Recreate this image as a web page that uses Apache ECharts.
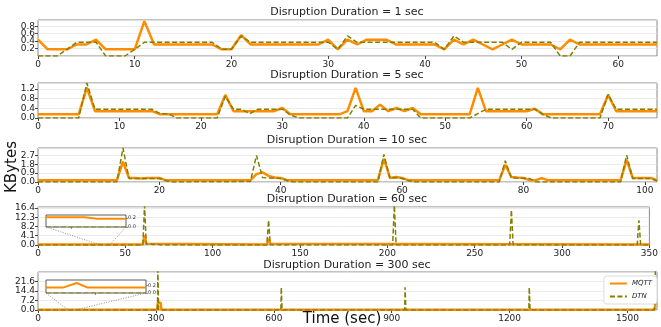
<!DOCTYPE html>
<html>
<head>
<meta charset="utf-8">
<script src="https://cdn.jsdelivr.net/npm/echarts@6/dist/echarts.min.js"></script>
<style>
html,body{margin:0;padding:0;background:#fff;}
#main{width:661px;height:327px;}
</style>
</head>
<body>
<div id="main"></div>
<script>
// 数据：每秒一个点 (1 sec / 5 sec)
var mqtt1 = [0.44,0.18,0.18,0.18,0.31,0.31,0.44,0.18,0.18,0.18,0.18,0.94,0.31,0.31,0.31,0.31,0.31,0.31,0.31,0.18,0.18,0.56,0.31,0.31,0.31,0.31,0.31,0.31,0.31,0.31,
    0.44,0.18,0.44,0.31,0.44,0.44,0.44,0.31,0.31,0.31,0.31,0.31,0.18,0.44,0.31,0.44,0.31,0.18,0.31,0.44,0.31,0.31,0.31,0.31,0.18,0.44,0.31,0.31,0.31,0.31,
    0.31,0.31,0.31,0.31,0.31];
var dtn1 = [0,0,0,0.18,0.37,0.37,0.37,0,0,0,0.18,0.37,0.37,0.37,0.37,0.37,0.37,0.37,0.37,0.18,0.18,0.54,0.37,0.37,0.37,0.37,0.37,0.37,0.37,0.37,
    0.37,0.18,0.54,0.37,0.37,0.37,0.37,0.37,0.37,0.37,0.37,0.37,0.18,0.54,0.37,0.37,0.37,0.37,0.37,0.18,0.37,0.37,0.37,0.37,0,0,0.37,0.37,0.37,0.37,
    0.37,0.37,0.37,0.37,0.37];
var mqtt5 = [0.15,0.15,0.15,0.15,0.15,0.15,1.25,0.28,0.28,0.28,0.28,0.28,0.28,0.28,0.28,0.15,0.15,0.15,0.15,0.15,0.15,0.15,0.15,0.95,0.28,0.28,0.28,0.28,0.28,0.28,
    0.41,0.15,0.15,0.15,0.15,0.15,0.15,0.15,0.28,1.24,0.28,0.28,0.55,0.28,0.41,0.28,0.41,0.15,0.15,0.15,0.15,0.15,0.15,0.15,1.24,0.28,0.28,0.28,0.28,0.28,
    0.28,0.38,0.15,0.15,0.15,0.15,0.15,0.15,0.15,0.15,0.95,0.28,0.28,0.28,0.28,0.28,0.28];
var dtn5 = [0,0,0,0,0,0,1.44,0.36,0.36,0.36,0.36,0.36,0.36,0.36,0.36,0.18,0.18,0,0,0,0,0,0,0.9,0.36,0.36,0.18,0.36,0.36,0.36,
    0.36,0.12,0,0,0,0,0,0,0,0.52,0.36,0.36,0.36,0.36,0.36,0.36,0.36,0,0,0,0,0,0,0,0.18,0.36,0.36,0.36,0.36,0.36,
    0.36,0.36,0.15,0,0,0,0,0,0,0,0.97,0.36,0.36,0.36,0.36,0.36,0.36];
// [秒, KBytes]，只记录变化点
var mqtt10 = [[0,0.19],[13,0.19],[14,2.06],[15,0.41],[16,0.41],[17,0.36],[18,0.41],[20,0.41],[21,0.19],[35,0.19],[36,0.8],[37,0.98],[38,0.62],[39,0.45],[40,0.41],[41,0.19],
    [56,0.19],[57,2.38],[58,0.41],[59,0.5],[60,0.41],[61,0.19],[76,0.19],[77,1.75],[78,0.5],[79,0.45],[80,0.41],[81,0.19],[82,0.19],[83,0.38],[84,0.19],
    [96,0.19],[97,2.25],[98,0.41],[101,0.41],[102,0.19]];
var dtn10 = [[0,0],[13,0],[14,3.45],[15,0.36],[20,0.36],[21,0.15],[22,0],[35,0.05],[36,2.7],[37,0.45],[38,0.4],[40,0.36],[41,0.15],[42,0],
    [56,0],[57,2.8],[58,0.36],[59,0.45],[60,0.36],[61,0.15],[62,0],[76,0],[77,2.16],[78,0.4],[81,0.36],[82,0],[96,0],[97,2.73],[98,0.36],[101,0.36],[102,0.1]];
var mqtt60 = [[0,0.2],[60,0.2],[61,4.3],[62,0.5],[63,0.2],[131,0.2],[132,2.8],[133,0.5],[134,0.2],[350,0.2]];
var dtn60 = [[0,0],[60,0],[61,17.5],[62,0.3],[64,0.6],[66,0.2],[68,0.5],[70,0],[131,0],[132,10.9],[133,0],[203,0],[204,17.5],[205,0],
    [270,0],[271,15.5],[272,0],[343,0],[344,10.9],[345,0],[350,0]];
var mqtt300 = [[0,0.17],[303,0.17],[305,5.5],[312,5.5],[314,0.17],[1569,0.17],[1571,5.5],[1575,5.5]];
var dtn300 = [[0,0],[304,0],[305,30],[307,0],[618,0],[619,17],[621,0],[933,0],[934,17],[936,0],[1249,0],[1250,17],[1252,0],[1568,0],[1571,30],[1575,30]];
// 局部放大图
var mqttZoom60 = [[36,0.22],[38.4,0.22],[39.2,0.185],[41,0.185]];
var dtnZoom60 = [[36,0],[41,0]];
var mqttZoom300 = [[77,0.15],[80,0.15],[82.2,0.27],[84,0.15],[94,0.15]];
var dtnZoom300 = [[77,0],[94,0]];

var durations = [1, 5, 10, 60, 300];
var xMax = [64, 76, 102, 350, 1575];
var xStep = [10, 10, 20, 50, 300];
var yMax = [0.97, 1.44, 3.45, 16.8, 28.5];
var yStep = [0.2, 0.4, 0.9, 4.1, 7.2];

var gridTop = [20, 83, 148, 207, 272];
var gridH = [36, 35, 34, 38, 38];
var titleY = [12, 75, 140, 199, 265];

var ORANGE = '#ff8c00', OLIVE = '#808000', FONT = 'DejaVu Sans';

function idx(arr){
    return arr.map(function(v, i){ return [i, v]; });
}
var mqttData = [idx(mqtt1), idx(mqtt5), mqtt10, mqtt60, mqtt300];
var dtnData = [idx(dtn1), idx(dtn5), dtn10, dtn60, dtn300];

var chart = echarts.init(document.getElementById('main'), null, {renderer: 'canvas'});
var grids = [], xAxes = [], yAxes = [], series = [], graphic = [];

function mqttLine(w){ return {color: ORANGE, width: w}; }
function dtnLine(w){ return {color: OLIVE, width: w, type: [5, 2.5]}; }

for (var i = 0; i < 5; i++) {
    grids.push({left: 38, width: 619, top: gridTop[i], height: gridH[i], show: true, borderColor: '#888', borderWidth: 1, backgroundColor: '#fff'});
    xAxes.push({
        type: 'value', gridIndex: i, min: 0, max: xMax[i], interval: xStep[i],
        axisLine: {show: false},
        axisTick: {show: true, length: 3, lineStyle: {color: '#444'}},
        axisLabel: {fontFamily: FONT, fontSize: 9, color: '#222', margin: 4, showMaxLabel: xMax[i] % xStep[i] === 0,
            formatter: function(v){ return String(v); }},
        splitLine: {show: false}
    });
    yAxes.push({
        type: 'value', gridIndex: i, min: 0, max: yMax[i], interval: yStep[i],
        axisLine: {show: false},
        axisTick: {show: true, length: 3, lineStyle: {color: '#444'}},
        axisLabel: {fontFamily: FONT, fontSize: 9, color: '#222', margin: 3, showMaxLabel: false,
            formatter: function(v){ return v.toFixed(1); }},
        splitLine: {show: true, lineStyle: {color: '#e6e6e6', width: 0.8}}
    });
    series.push({name: 'MQTT', type: 'line', xAxisIndex: i, yAxisIndex: i, data: mqttData[i], symbol: 'none', lineStyle: mqttLine(2.5), z: 2});
    series.push({name: 'DTN', type: 'line', xAxisIndex: i, yAxisIndex: i, data: dtnData[i], symbol: 'none', lineStyle: dtnLine(1.5), z: 3});
    graphic.push({id: 't' + i, type: 'text', x: 347, y: titleY[i], style: {text: 'Disruption Duration = ' + durations[i] + ' sec',
        font: '11px "DejaVu Sans"', fill: '#222', textAlign: 'center', textVerticalAlign: 'middle', align: 'center', verticalAlign: 'middle'}});
}

// 局部放大图
var insets = [
    {grid: {left: 46, top: 215, width: 80, height: 12}, host: 3, xr: [36, 41], yr: 0.27, tick: 37.6, m: mqttZoom60, d: dtnZoom60},
    {grid: {left: 46, top: 280, width: 100, height: 13}, host: 4, xr: [77, 94], yr: 0.35, tick: 85.4, m: mqttZoom300, d: dtnZoom300}
];
insets.forEach(function(ins, k){
    var gi = 5 + k;
    var g = ins.grid;
    grids.push({left: g.left, top: g.top, width: g.width, height: g.height, show: true, borderColor: '#333', borderWidth: 0.8, backgroundColor: '#fff', z: 10});
    xAxes.push({type: 'value', gridIndex: gi, min: ins.xr[0], max: ins.xr[1], z: 11,
        axisLine: {show: false}, axisLabel: {show: false}, splitLine: {show: false},
        axisTick: {show: true, length: 2, customValues: [ins.tick], lineStyle: {color: '#444', width: 0.6}}});
    yAxes.push({type: 'value', gridIndex: gi, position: 'right', min: 0, max: ins.yr, interval: 0.2, z: 11,
        axisLine: {show: false}, splitLine: {show: false},
        axisTick: {show: true, length: 2, lineStyle: {color: '#444', width: 0.6}},
        axisLabel: {fontFamily: FONT, fontSize: 5, color: '#333', margin: 2, showMaxLabel: false,
            formatter: function(v){ return v.toFixed(1); }}});
    series.push({name: 'MQTT', type: 'line', xAxisIndex: gi, yAxisIndex: gi, data: ins.m, symbol: 'none', lineStyle: mqttLine(2), z: 12});
    series.push({name: 'DTN', type: 'line', xAxisIndex: gi, yAxisIndex: gi, data: ins.d, symbol: 'none', lineStyle: dtnLine(1.2), z: 13});
});

graphic.push({id: 'ylab', type: 'text', x: 12, y: 167, rotation: Math.PI / 2, style: {text: 'KBytes', font: '15px "DejaVu Sans"', fill: '#111',
    textAlign: 'center', textVerticalAlign: 'middle', align: 'center', verticalAlign: 'middle'}});
graphic.push({id: 'xlab', type: 'text', x: 342, y: 319, style: {text: 'Time (sec)', font: '15px "DejaVu Sans"', fill: '#111',
    textAlign: 'center', textVerticalAlign: 'middle', align: 'center', verticalAlign: 'middle'}});

chart.setOption({
    animation: false,
    backgroundColor: '#fff',
    grid: grids,
    xAxis: xAxes,
    yAxis: yAxes,
    legend: {
        data: ['MQTT', 'DTN'], orient: 'vertical', right: 4, top: 276,
        itemWidth: 17, itemHeight: 6, itemGap: 6, padding: [4, 5, 4, 5],
        backgroundColor: '#fff', borderColor: '#ddd', borderWidth: 1, borderRadius: 3,
        itemStyle: {opacity: 0, borderWidth: 0},
        textStyle: {fontFamily: FONT, fontSize: 7, fontStyle: 'italic', color: '#222'}
    },
    series: series,
    graphic: graphic
});

// 放大图连线
var links = [];
insets.forEach(function(ins, k){
    var gi = 5 + k;
    [0, 1].forEach(function(s){
        var a = chart.convertToPixel({xAxisIndex: gi, yAxisIndex: gi}, [ins.xr[s], 0]);
        var b = chart.convertToPixel({xAxisIndex: ins.host, yAxisIndex: ins.host}, [ins.xr[s], 0]);
        links.push({id: 'ln' + k + s, type: 'line', z: 20, shape: {x1: a[0], y1: a[1], x2: b[0], y2: b[1]},
            style: {stroke: '#777', lineWidth: 0.8, lineDash: [1, 1.5]}});
    });
});
chart.setOption({graphic: graphic.concat(links)});
</script>
</body>
</html>
